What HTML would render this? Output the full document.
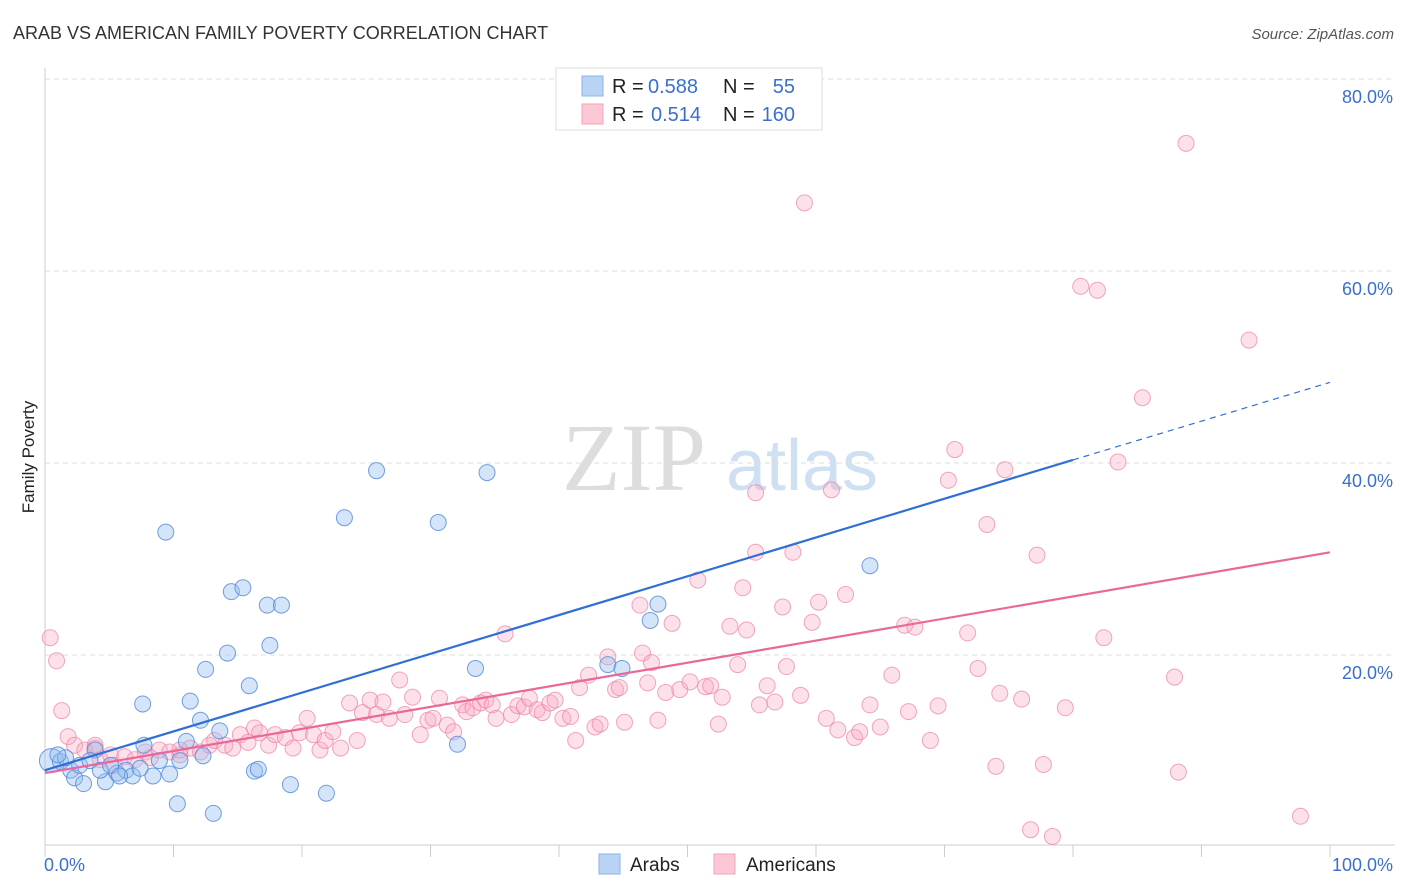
<!DOCTYPE html>
<html><head><meta charset="utf-8"><style>
body{margin:0;background:#fff;font-family:"Liberation Sans",sans-serif;}
#c{position:relative;width:1406px;height:892px;overflow:hidden;}
</style></head><body>
<div id="c">
<svg id="s" width="1406" height="892" xmlns="http://www.w3.org/2000/svg">
<text x="13" y="39" font-size="18" fill="#333">ARAB VS AMERICAN FAMILY POVERTY CORRELATION CHART</text>
<text x="1394" y="39" font-size="15" fill="#555" font-style="italic" text-anchor="end">Source: ZipAtlas.com</text>
<text x="34" y="457" font-size="17" fill="#222" transform="rotate(-90 34 457)" text-anchor="middle">Family Poverty</text>
<g><text x="634" y="490" font-size="96" font-family="Liberation Serif,serif" fill="#ddd" text-anchor="middle">ZIP</text><text x="802" y="490" font-size="72" fill="#cfe0f3" text-anchor="middle">atlas</text></g>
<g id="grid"></g><g id="marks"></g><g id="lines"></g>
<g>
<rect x="556" y="68" width="266" height="62" fill="#fff" stroke="#ddd"/>
<rect x="582" y="76" width="21" height="20" fill="#b9d3f5" stroke="#8ab4ea"/>
<rect x="582" y="104" width="21" height="20" fill="#fcc8d6" stroke="#f3a3bb"/>
<g font-size="20" fill="#222">
<text x="612" y="93">R =</text><text x="648" y="93" fill="#3a6fd0">0.588</text><text x="723" y="93">N =</text><text x="795" y="93" fill="#3a6fd0" text-anchor="end">55</text>
<text x="612" y="121">R =</text><text x="651" y="121" fill="#3a6fd0">0.514</text><text x="723" y="121">N =</text><text x="795" y="121" fill="#3a6fd0" text-anchor="end">160</text>
</g>
</g>
<g>
<rect x="599" y="854" width="21" height="20" fill="#b9d3f5" stroke="#8ab4ea"/>
<text x="630" y="871" font-size="19" fill="#222">Arabs</text>
<rect x="714" y="854" width="21" height="20" fill="#fcc8d6" stroke="#f3a3bb"/>
<text x="746" y="871" font-size="19" fill="#222">Americans</text>
</g>
</svg>
</div>
<script>
const yTicks=[20,40,60,80];
const xTickLabels=["0.0%","100.0%"];
const arabsX=[0.5,1.2,2,2.3,3,3.9,4.7,5.6,6.3,6.8,7.6,7.7,8.4,9.4,9.7,10.3,11,11.3,12.1,12.3,12.5,13.1,13.6,14.2,14.5,15.4,15.9,16.3,16.6,17.3,17.5,18.4,19.1,21.9,23.3,25.8,30.6,32.1,33.5,34.4,43.8,44.9,47.1,47.7,64.2,2.7,1.6,4.3,5.1,7.4,8.9,1,3.5,5.8,10.5];
const arabsY=[9,8.9,8,7.2,6.6,10.1,6.8,7.7,8,7.4,14.9,10.6,7.4,32.8,7.6,4.5,11,15.2,13.2,9.5,18.5,3.5,12.1,20.2,26.6,27,16.8,7.9,8.1,25.2,21,25.2,6.5,5.6,34.3,39.2,33.8,10.7,18.6,39,19,18.6,23.6,25.3,29.3,8.5,9.3,8,8.5,8.2,9,9.6,9,7.4,9];
const amerX=[0.4,0.9,1.3,1.8,2.3,3.1,3.9,4.3,5.1,5.4,6.2,7.0,7.8,8.2,8.9,9.7,10.5,11.3,12.1,12.8,13.2,14.0,14.6,15.2,15.8,16.3,16.7,17.4,17.9,18.7,19.3,19.8,20.4,20.9,21.4,21.8,22.4,23.0,23.7,24.3,24.7,25.3,25.8,26.3,26.8,27.6,28.0,28.6,29.2,29.8,30.2,30.7,31.3,31.8,32.5,32.8,33.3,33.9,34.3,34.8,35.1,35.8,36.3,36.8,37.3,37.7,38.3,38.7,39.3,39.7,40.3,40.9,41.3,41.6,42.3,42.8,43.2,43.8,44.4,44.7,45.1,46.5,46.9,47.2,47.7,48.3,48.8,49.4,50.2,50.8,51.4,51.8,52.4,52.7,53.3,53.9,54.3,54.6,55.3,55.6,56.2,56.8,57.4,57.7,58.2,58.8,59.1,59.7,60.2,60.8,61.2,61.7,62.3,63.0,63.4,64.2,65.0,65.9,66.9,67.2,67.7,68.9,69.5,70.3,70.8,71.8,72.6,73.3,74.0,74.3,74.7,76.0,76.7,77.2,77.7,78.4,79.4,80.6,81.9,82.4,83.5,85.4,87.9,88.2,88.8,93.7,97.7,55.3,46.3,3.9,10.5];
const amerY=[21.8,19.4,14.2,11.5,10.6,10.1,10.3,9.1,9.6,8.5,9.4,9.1,9.9,9.3,10.1,9.9,9.6,10.3,9.9,10.6,11.1,10.6,10.3,11.7,10.9,12.4,11.9,10.6,11.7,11.4,10.3,11.9,13.4,11.7,10.1,11.1,12.0,10.3,15.0,11.1,14.0,15.3,13.8,15.1,13.4,17.4,13.8,15.6,11.7,13.2,13.4,15.5,12.7,12.0,14.8,14.1,14.5,15.0,15.3,14.8,13.4,22.2,13.8,14.7,14.6,15.5,14.3,14.0,15.0,15.3,13.4,13.6,11.1,16.6,17.9,12.5,12.8,19.8,16.4,16.6,13.0,20.2,17.1,19.2,13.2,16.1,23.3,16.4,17.2,27.8,16.7,16.8,12.8,15.6,23.0,19.0,27.0,22.6,30.7,14.8,16.8,15.1,25.0,18.8,30.7,15.8,67.1,23.4,25.5,13.4,37.2,12.2,26.3,11.4,12.0,14.8,12.5,17.9,23.1,14.1,22.9,11.1,14.7,38.2,41.4,22.3,18.6,33.6,8.4,16.0,39.3,15.4,1.8,30.4,8.6,1.1,14.5,58.4,58.0,21.8,40.1,46.8,17.7,7.8,73.3,52.8,3.2,36.9,25.2,10.6,10.1];
const trendArabs=[8.0,48.4];
const trendAmer=[7.7,30.7];
const L=45,R=1330,B=847,T=79;
const X=v=>L+v*(R-L)/100, Y=v=>B-v*(B-T)/80;
const NS="http://www.w3.org/2000/svg";
function mk(p,tag,a){const e=document.createElementNS(NS,tag);for(const k in a)e.setAttribute(k,a[k]);p.appendChild(e);return e;}
const grid=document.getElementById('grid'),marks=document.getElementById('marks'),lines=document.getElementById('lines');
yTicks.forEach(t=>{
 const g=mk(grid,'line',{x1:L,x2:1395,y1:Y(t),y2:Y(t),stroke:'#ddd','stroke-dasharray':'5,4'});
 
 
 const tx=mk(grid,'text',{x:1393,y:Y(t)+24,'font-size':18,fill:'#3a6fd0','text-anchor':'end'});tx.textContent=t.toFixed(1)+'%';
 
 
});
const ax=mk(grid,'line',{x1:L,x2:1395,y1:845,y2:845,stroke:'#ccc'});


const ay=mk(grid,'line',{x1:L,x2:L,y1:68,y2:845,stroke:'#ccc'});


for(let i=0;i<=10;i++){const t=mk(grid,'line',{x1:X(i*10),x2:X(i*10),y1:845,y2:857,stroke:'#ccc'});
 
 }
[[0,'start',44],[100,'end',1393]].forEach((d,i)=>{const t=mk(grid,'text',{x:d[2],y:871,'font-size':18,fill:'#3a6fd0','text-anchor':d[1]});t.textContent=xTickLabels[i];
 
 });
amerX.forEach((v,i)=>{const c=mk(marks,'circle',{cx:X(v),cy:Y(amerY[i]),r:8,fill:'rgba(248,170,195,0.35)',stroke:'rgba(235,130,165,0.7)','stroke-width':1});
 
 });
arabsX.forEach((v,i)=>{const c=mk(marks,'circle',{cx:X(v),cy:Y(arabsY[i]),r:i==0?12:8,fill:'rgba(150,190,240,0.4)',stroke:'rgba(80,135,215,0.8)','stroke-width':1});
 
 });
const xe=80;const ye=trendArabs[0]+(trendArabs[1]-trendArabs[0])*xe/100;
const l1=mk(lines,'line',{x1:X(0),y1:Y(trendArabs[0]),x2:X(xe),y2:Y(ye),stroke:'#2f6fd6','stroke-width':2.2});


const l2=mk(lines,'line',{x1:X(xe),y1:Y(ye),x2:X(100),y2:Y(trendArabs[1]),stroke:'#2f6fd6','stroke-width':1.2,'stroke-dasharray':'6,5'});


const l3=mk(lines,'line',{x1:X(0),y1:Y(trendAmer[0]),x2:X(100),y2:Y(trendAmer[1]),stroke:'#e8689a','stroke-width':2.2});


</script>
</body></html>
